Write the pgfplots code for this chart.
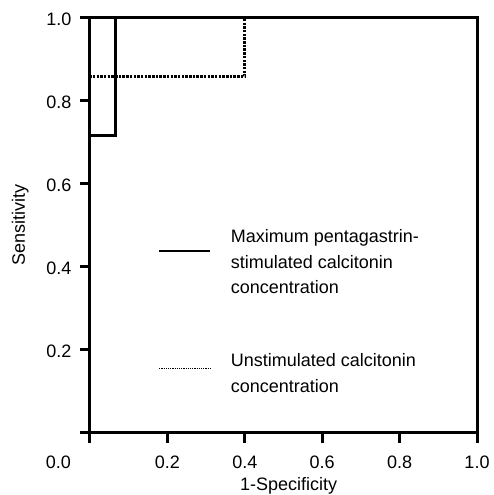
\documentclass[border=0pt]{standalone}
\usepackage{pgfplots}
\pgfplotsset{compat=1.18}
\usepackage{fontspec}
\setmainfont{Liberation Sans}
\begin{document}
\begin{tikzpicture}[font=\fontsize{18}{25.5}\selectfont]
\begin{axis}[
  scale only axis, width=387pt, height=415.4pt,
  xmin=0, xmax=1, ymin=0, ymax=1,
  clip=false,
  axis line style={line width=3pt},
  tick style={line width=3pt, black},
  major tick length=10pt,
  tick align=outside,
  xtick pos=bottom, ytick pos=left,
  xtick={0,0.2,0.4,0.6,0.8,1},
  xticklabels={\makebox[0pt][r]{0.0\hspace{19pt}},0.2,0.4,0.6,0.8,1.0},
  ytick={0,0.2,0.4,0.6,0.8,1},
  yticklabels={,0.2,0.4,0.6,0.8,1.0},
  xticklabel style={inner sep=0pt, anchor=north, yshift=-13pt},
  yticklabel style={inner sep=0pt, anchor=east, xshift=-8.3pt, yshift=-2pt},
  xlabel={1-Specificity}, ylabel={Sensitivity},
  xlabel style={at={(axis description cs:0.513,-0.1403)}, anchor=base, inner sep=0pt},
  ylabel style={at={(axis description cs:-0.168,0.5)}, anchor=base, inner sep=0pt},
  legend style={draw=none, fill=none, inner sep=0pt, outer sep=0pt,
    column sep=0pt, row sep=113.4pt,
    at={(0.1765,0.4584)}, anchor=north west,
    nodes={inner sep=0pt, text height=0pt, text depth=0pt},
    cells={anchor=west}},
]
\addplot[black, line width=3pt, line join=miter,
  legend image code/.code={
    \path[draw=none, fill=none] (0pt,-10pt) rectangle (71.7pt,0pt);
    \draw[black, solid, line width=1.7pt] (0pt,-8.4pt) -- (51pt,-8.4pt);}]
  coordinates {(0,0) (0,0.7143) (0.0667,0.7143) (0.0667,1) (1,1)};
\addlegendentry{\begin{tabular}[t]{@{}l@{}}Maximum pentagastrin-\\stimulated calcitonin\\concentration\end{tabular}}
\addplot[black, line width=3pt, line join=miter, dash pattern=on 2.5pt off 1.2pt,
  legend image code/.code={
    \path[draw=none, fill=none] (0pt,-10pt) rectangle (71.7pt,0pt);
    \draw[black, line width=1.5pt, dash pattern=on 1.2pt off 1pt] (0pt,-2pt) -- (51pt,-2pt);}]
  coordinates {(0,0) (0,0.8571) (0.4,0.8571) (0.4,1) (1,1)};
\addlegendentry{\begin{tabular}[t]{@{}l@{}}Unstimulated calcitonin\\concentration\end{tabular}}
\coordinate (O) at (rel axis cs:0,0);
\end{axis}
\pgfresetboundingbox
\path (O) ++(-90pt,-62.3pt) rectangle ++(493pt,495pt);
\end{tikzpicture}
\end{document}
